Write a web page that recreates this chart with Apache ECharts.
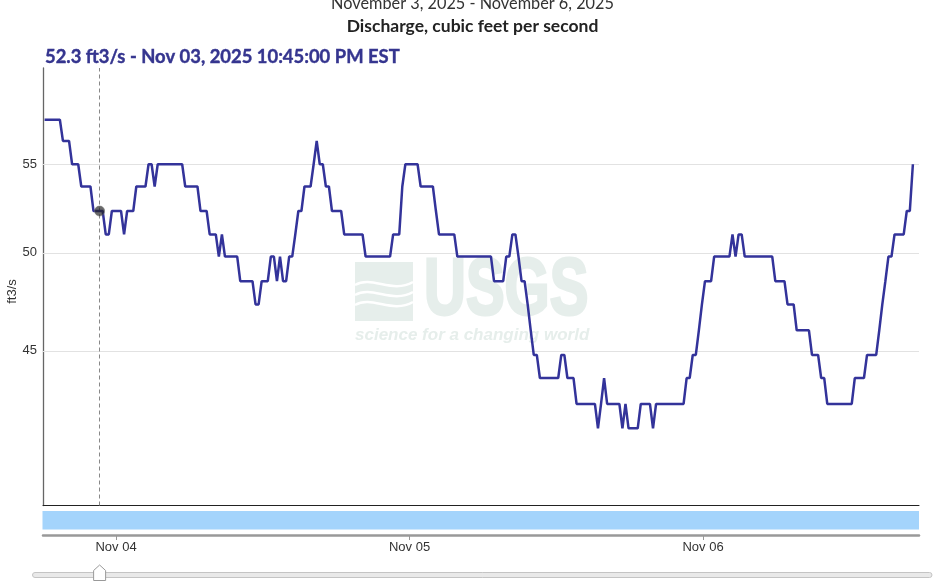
<!DOCTYPE html>
<html>
<head>
<meta charset="utf-8">
<script src="https://cdn.jsdelivr.net/npm/echarts@6/dist/echarts.min.js"></script>
<style>html,body{margin:0;padding:0;background:#fff}#c{width:936px;height:583px}</style>
</head>
<body>
<div id="c"></div>
<script>
// ---- data ----
// quarter-hour index 0 = 2025-11-03 18:00 EST; hours measured from 2025-11-03 00:00 EST
const recordStartHour = 18;
// discharge (ft3/s) of each constant run of 15-minute readings
const runValue = [
  57.7,56.4,55.0,53.7,52.3,51.0,52.3,51.0,52.3,53.7,
  55.0,53.7,55.0,53.7,52.3,51.0,49.8,51.0,49.8,48.5,
  47.3,48.5,49.8,48.5,49.8,48.5,49.8,51.0,52.3,53.7,
  55.0,56.4,55.0,53.7,52.3,51.0,49.8,51.0,53.7,55.0,
  53.7,52.3,51.0,49.8,48.5,49.8,51.0,49.8,48.5,47.3,
  46.0,44.8,43.7,44.8,43.7,42.5,41.4,42.5,43.7,42.5,
  41.4,42.5,41.4,42.5,41.4,42.5,43.7,44.8,46.0,47.3,
  48.5,49.8,51.0,49.8,51.0,49.8,48.5,47.3,46.0,44.8,
  43.7,42.5,43.7,44.8,46.0,47.3,48.5,49.8,51.0,52.3,
  55.0
];
// first and last quarter-hour index of each run
const runFrom = [
  1,7,10,13,17,21,23,27,28,31,
  35,37,38,47,52,55,58,59,60,65,
  70,72,75,77,78,79,81,83,84,86,
  89,90,91,93,95,99,106,115,118,119,
  124,129,130,136,148,152,154,156,157,159,
  160,161,163,170,172,175,182,183,184,185,
  190,191,192,196,200,201,211,213,215,216,
  217,220,226,227,228,230,240,244,247,252,
  255,257,266,270,274,275,276,277,279,283,
  285
];
const runTo = [
  6,9,12,16,20,22,26,27,30,34,
  36,37,46,51,54,57,58,59,64,69,
  71,74,76,77,78,80,82,83,85,88,
  89,90,92,94,98,105,114,117,118,123,
  128,129,135,147,151,153,155,156,158,159,
  160,162,169,171,174,181,182,183,184,189,
  190,191,195,199,200,210,212,214,215,216,
  219,225,226,227,229,239,243,246,251,254,
  256,265,269,273,274,275,276,278,282,284,
  285
];
const gridValues = [45, 50, 55];
const tickHours = [24, 48, 72];
const tickLabels = ['Nov 04', 'Nov 05', 'Nov 06'];
const markerQuarter = 19;      // 10:45 PM
const markerValue = 52.3;
const titleText = 'November 3, 2025 - November 6, 2025';
const subtitleText = 'Discharge, cubic feet per second';
const readoutText = '52.3 ft3/s - Nov 03, 2025 10:45:00 PM EST';
const unitText = 'ft3/s';

// ---- build series ----
const lineData = [];
for (let k = 0; k < runValue.length; k++) {
  lineData.push([recordStartHour + runFrom[k] / 4, runValue[k]]);
  if (runTo[k] !== runFrom[k]) lineData.push([recordStartHour + runTo[k] / 4, runValue[k]]);
}
const markerHour = recordStartHour + markerQuarter / 4;

const SANS = '"Liberation Sans", Arial, sans-serif';
const TITLE = 'Lato, "Open Sans", sans-serif';
const WM = '#e6eeeb';

const chart = echarts.init(document.getElementById('c'));
chart.setOption({
  animation: false,
  grid: { left: 43, right: 17, top: 68, bottom: 77.5 },
  xAxis: [
    { type: 'value', min: 18.12, max: 89.75,
      axisLine: { show: true, onZero: false, lineStyle: { color: '#222', width: 1 } },
      axisTick: { show: false }, axisLabel: { show: false }, splitLine: { show: false } },
    { type: 'value', min: 18.03, max: 89.66, position: 'bottom', offset: 29.5,
      axisLine: { show: true, onZero: false, lineStyle: { color: '#999', width: 2.5 } },
      axisTick: { show: true, length: 5, customValues: tickHours, lineStyle: { color: '#999', width: 1 } },
      axisLabel: { show: true, customValues: tickHours, margin: 6, color: '#333', fontSize: 13, fontFamily: SANS,
        formatter: v => tickLabels[tickHours.indexOf(v)] || '' },
      splitLine: { show: false } }
  ],
  yAxis: { type: 'log', logBase: 10, min: 38.1, max: 61.0,
    axisLine: { show: true, lineStyle: { color: '#666', width: 1.3 } },
    axisTick: { show: false }, axisLabel: { show: false }, splitLine: { show: false } },
  series: [
    { type: 'line', data: lineData, showSymbol: false, symbol: 'none', z: 3,
      lineStyle: { color: '#33339a', width: 2.5 },
      markLine: { silent: true, symbol: 'none', z: 1, animation: false,
        lineStyle: { color: '#e2e2e2', width: 1, type: 'solid' },
        label: { position: 'start', distance: 6, color: '#333', fontSize: 13, fontFamily: SANS,
          formatter: p => String(p.value) },
        emphasis: { disabled: true },
        data: gridValues.map(v => ({ yAxis: v })) } },
    { type: 'scatter', data: [[markerHour, markerValue]], symbolSize: 10, z: 4,
      itemStyle: { color: 'rgba(35,35,35,0.85)', borderColor: 'rgba(110,110,110,0.7)', borderWidth: 1 },
      markLine: { silent: true, symbol: 'none', z: 1, animation: false,
        lineStyle: { color: '#888', width: 1, type: [4, 3] }, label: { show: false },
        emphasis: { disabled: true },
        data: [{ xAxis: markerHour }] } }
  ]
});

const hx = chart.convertToPixel({ xAxisIndex: 0 }, markerHour);

function wave(y) {
  return { type: 'bezierCurve', z: 0,
    shape: { x1: 355, y1: y, cpx1: 372, cpy1: y - 10, cpx2: 392, cpy2: y + 9, x2: 413, y2: y - 3 },
    style: { fill: 'none', stroke: '#fff', lineWidth: 2.5 } };
}

chart.setOption({
  graphic: [
    // watermark
    { type: 'rect', z: 0, shape: { x: 355, y: 262, width: 58, height: 59 }, style: { fill: WM } },
    wave(285), wave(295), wave(305),
    { type: 'text', z: 0, x: 424, y: 291.5, scaleX: 0.725,
      style: { text: 'USGS', fontSize: 80, fontWeight: 'bold', fontFamily: SANS, fill: WM, stroke: WM, lineWidth: 3, align: 'left', verticalAlign: 'middle' } },
    { type: 'text', z: 0, x: 355, y: 335,
      style: { text: 'science for a changing world', fontSize: 17, fontWeight: 'bold', fontStyle: 'italic', fontFamily: SANS, fill: WM, align: 'left', verticalAlign: 'middle' } },
    // titles
    { type: 'text', x: 472.5, y: 4,
      style: { text: titleText, fontSize: 16.3, fontFamily: TITLE, fill: '#333', align: 'center', verticalAlign: 'middle' } },
    { type: 'text', x: 472.5, y: 26.5,
      style: { text: subtitleText, fontSize: 17.5, fontWeight: 'bold', fontFamily: TITLE, fill: '#222', align: 'center', verticalAlign: 'middle' } },
    { type: 'text', x: 45, y: 57.5,
      style: { text: readoutText, fontSize: 18.4, fontWeight: 'bold', fontFamily: TITLE, fill: '#35358f', stroke: '#35358f', lineWidth: 0.4, align: 'left', verticalAlign: 'middle' } },
    { type: 'text', x: 12, y: 291.5, rotation: Math.PI / 2,
      style: { text: unitText, fontSize: 13, fontFamily: SANS, fill: '#333', align: 'center', verticalAlign: 'middle' } },
    // navigator band and slider
    { type: 'rect', shape: { x: 42.5, y: 511, width: 876.5, height: 18.5 }, style: { fill: '#a4d4fc' } },
    { type: 'rect', shape: { x: 32.5, y: 572.5, width: 899.5, height: 5, r: 2.5 }, style: { fill: '#e9e9e9', stroke: '#c4c4c4', lineWidth: 1 } },
    { type: 'polygon', shape: { points: [[hx, 565], [hx + 6, 570.5], [hx + 6, 580.5], [hx - 6, 580.5], [hx - 6, 570.5]] },
      style: { fill: '#fff', stroke: '#999', lineWidth: 1 } }
  ]
});
</script>
</body>
</html>
